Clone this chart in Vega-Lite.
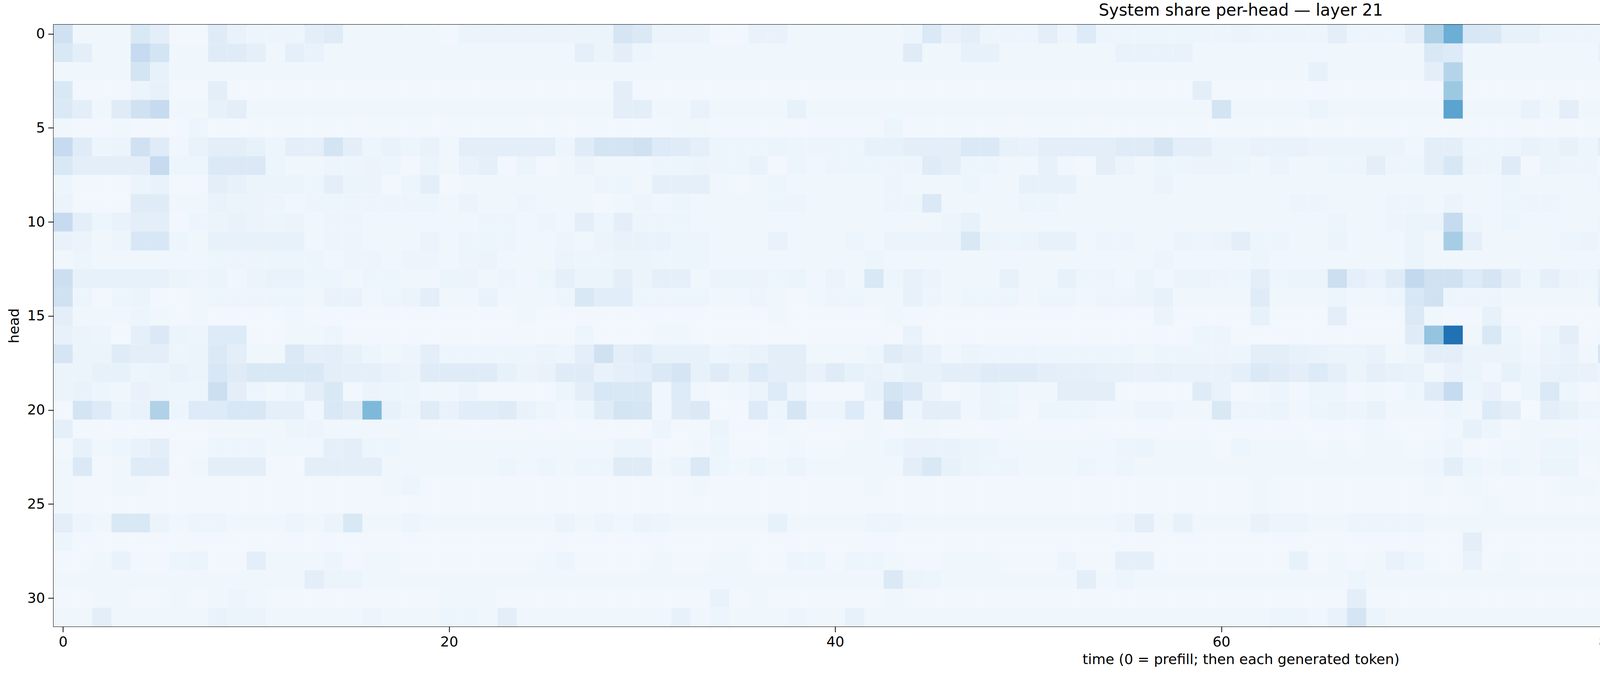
{
  "$schema": "https://vega.github.io/schema/vega-lite/v6.json",
  "width": 7748,
  "height": 1728,
  "autosize": {"type": "fit", "contains": "padding"},
  "padding": {"left": 18, "top": 6, "right": 1000, "bottom": 22},
  "background": "white",
  "config": {
    "font": "DejaVu Sans",
    "view": {"stroke": "black", "strokeWidth": 2},
    "axis": {"labelFontSize": 36, "titleFontSize": 36, "titleFontWeight": "normal", "labelColor": "black", "titleColor": "black", "tickColor": "black", "domain": false, "grid": false, "tickSize": 14, "tickWidth": 2, "labelPadding": 8}
  },
  "title": {"text": "System share per-head — layer 21", "fontSize": 42, "fontWeight": "normal", "offset": 14, "color": "black"},
  "data": {"values": [
{"h":0,"t":[0,1,2,3,4,5,6,7,8,9,10,11,12,13,14,15,16,17,18,19,20,21,22,23,24,25,26,27,28,29,30,31,32,33,34,35,36,37,38,39,40,41,42,43,44,45,46,47,48,49,50,51,52,53,54,55,56,57,58,59,60,61,62,63,64,65,66,67,68,69,70,71,72,73,74,75,76,77,78,79,80,81,82,83,84,85,86,87,88,89,90,91,92,93,94,95,96,97,98,99,100,101,102,103,104,105,106,107,108,109,110,111,112,113,114,115,116,117,118,119,120,121,122],"v":[0.2,0.04,0.04,0.04,0.15,0.1,0.03,0.03,0.12,0.07,0.05,0.05,0.05,0.1,0.12,0.04,0.04,0.04,0.04,0.04,0.03,0.06,0.06,0.06,0.06,0.06,0.06,0.06,0.06,0.17,0.14,0.06,0.06,0.06,0.03,0.03,0.07,0.07,0.04,0.04,0.04,0.04,0.04,0.04,0.05,0.14,0.07,0.1,0.05,0.05,0.05,0.1,0.05,0.13,0.05,0.05,0.05,0.05,0.05,0.05,0.05,0.06,0.05,0.05,0.05,0.05,0.1,0.05,0.05,0.05,0.1,0.33,0.5,0.16,0.15,0.08,0.08,0.05,0.05,0.05,0.05,0.05,0.1,0.05,0.9,0.05,0.05,0.05,0.05,0.05,0.05,0.05,0.06,0.05,0.05,0.06,0.05,0.05,0.5,0.1,0.3,0.05,0.05,0.05,0.08,0.08,0.16,0.12,0.16,0.14,0.25,0.05,0.05,0.12,0.05,0.08,0.1,0.1,0.1,0.13,0.13,0.13,0.4]},
{"h":1,"t":[0,1,2,3,4,5,6,7,8,9,10,11,12,13,14,15,16,17,18,19,20,21,22,23,24,25,26,27,28,29,30,31,32,33,34,35,36,37,38,39,40,41,42,43,44,45,46,47,48,49,50,51,52,53,54,55,56,57,58,59,60,61,62,63,64,65,66,67,68,69,70,71,72,73,74,75,76,77,78,79,80,81,82,83,84,85,86,87,88,89,90,91,92,93,94,95,96,97,98,99,100,101,102,103,104,105,106,107,108,109,110,111,112,113,114,115,116,117,118,119,120,121,122],"v":[0.15,0.1,0.04,0.04,0.25,0.18,0.04,0.04,0.12,0.12,0.09,0.04,0.09,0.07,0.04,0.04,0.04,0.04,0.04,0.04,0.04,0.04,0.04,0.04,0.04,0.04,0.04,0.09,0.06,0.1,0.05,0.04,0.04,0.04,0.04,0.04,0.04,0.04,0.04,0.04,0.04,0.04,0.04,0.04,0.12,0.04,0.04,0.08,0.08,0.04,0.04,0.04,0.04,0.04,0.04,0.07,0.07,0.07,0.07,0.04,0.04,0.04,0.04,0.04,0.04,0.04,0.04,0.04,0.04,0.04,0.04,0.15,0.13,0.04,0.04,0.04,0.04,0.04,0.04,0.04,0.07,0.04,0.04,0.04,0.07,0.04,0.04,0.04,0.04,0.04,0.04,0.04,0.04,0.04,0.04,0.04,0.04,0.04,0.3,0.04,0.17,0.04,0.04,0.04,0.04,0.04,0.04,0.04,0.04,0.04,0.07,0.09,0.04,0.04,0.08,0.08,0.04,0.1,0.04,0.04,0.04,0.04,0.25]},
{"h":2,"t":[0,1,2,3,4,5,6,7,8,9,10,11,12,13,14,15,16,17,18,19,20,21,22,23,24,25,26,27,28,29,30,31,32,33,34,35,36,37,38,39,40,41,42,43,44,45,46,47,48,49,50,51,52,53,54,55,56,57,58,59,60,61,62,63,64,65,66,67,68,69,70,71,72,73,74,75,76,77,78,79,80,81,82,83,84,85,86,87,88,89,90,91,92,93,94,95,96,97,98,99,100,101,102,103,104,105,106,107,108,109,110,111,112,113,114,115,116,117,118,119,120,121,122],"v":[0.04,0.04,0.04,0.04,0.18,0.08,0.04,0.04,0.04,0.04,0.04,0.04,0.04,0.04,0.04,0.04,0.04,0.04,0.04,0.04,0.04,0.04,0.04,0.04,0.04,0.04,0.04,0.04,0.04,0.04,0.04,0.04,0.04,0.04,0.04,0.04,0.04,0.04,0.04,0.04,0.04,0.04,0.04,0.04,0.04,0.04,0.04,0.04,0.04,0.04,0.04,0.04,0.04,0.04,0.04,0.04,0.04,0.04,0.04,0.04,0.04,0.04,0.04,0.04,0.04,0.08,0.04,0.04,0.04,0.04,0.04,0.1,0.3,0.04,0.04,0.04,0.04,0.04,0.04,0.04,0.04,0.04,0.04,0.04,0.8,0.04,0.07,0.04,0.04,0.04,0.04,0.04,0.04,0.04,0.04,0.04,0.04,0.04,0.12,0.04,0.14,0.04,0.04,0.04,0.04,0.04,0.04,0.04,0.12,0.04,0.04,0.04,0.04,0.04,0.04,0.04,0.1,0.04,0.04,0.04,0.04,0.04,0.14]},
{"h":3,"t":[0,1,2,3,4,5,6,7,8,9,10,11,12,13,14,15,16,17,18,19,20,21,22,23,24,25,26,27,28,29,30,31,32,33,34,35,36,37,38,39,40,41,42,43,44,45,46,47,48,49,50,51,52,53,54,55,56,57,58,59,60,61,62,63,64,65,66,67,68,69,70,71,72,73,74,75,76,77,78,79,80,81,82,83,84,85,86,87,88,89,90,91,92,93,94,95,96,97,98,99,100,101,102,103,104,105,106,107,108,109,110,111,112,113,114,115,116,117,118,119,120,121,122],"v":[0.15,0.03,0.03,0.03,0.06,0.08,0.03,0.03,0.1,0.03,0.03,0.03,0.03,0.03,0.03,0.03,0.03,0.03,0.03,0.03,0.03,0.03,0.03,0.03,0.03,0.03,0.03,0.03,0.03,0.1,0.03,0.03,0.03,0.03,0.03,0.03,0.03,0.03,0.03,0.03,0.03,0.03,0.03,0.03,0.03,0.03,0.03,0.03,0.03,0.03,0.03,0.03,0.03,0.03,0.03,0.03,0.03,0.03,0.03,0.1,0.03,0.03,0.03,0.03,0.03,0.03,0.03,0.03,0.03,0.03,0.03,0.03,0.38,0.03,0.03,0.03,0.03,0.03,0.03,0.03,0.03,0.03,0.03,0.03,0.4,0.03,0.03,0.03,0.03,0.03,0.03,0.03,0.03,0.03,0.03,0.03,0.03,0.03,0.03,0.03,0.14,0.03,0.03,0.03,0.03,0.03,0.03,0.03,0.03,0.03,0.12,0.1,0.03,0.03,0.03,0.03,0.03,0.1,0.03,0.03,0.03,0.03,0.03]},
{"h":4,"t":[0,1,2,3,4,5,6,7,8,9,10,11,12,13,14,15,16,17,18,19,20,21,22,23,24,25,26,27,28,29,30,31,32,33,34,35,36,37,38,39,40,41,42,43,44,45,46,47,48,49,50,51,52,53,54,55,56,57,58,59,60,61,62,63,64,65,66,67,68,69,70,71,72,73,74,75,76,77,78,79,80,81,82,83,84,85,86,87,88,89,90,91,92,93,94,95,96,97,98,99,100,101,102,103,104,105,106,107,108,109,110,111,112,113,114,115,116,117,118,119,120,121,122],"v":[0.14,0.1,0.04,0.12,0.2,0.25,0.04,0.04,0.08,0.1,0.04,0.04,0.04,0.04,0.04,0.04,0.04,0.04,0.04,0.04,0.04,0.04,0.04,0.04,0.04,0.04,0.04,0.04,0.04,0.1,0.1,0.04,0.04,0.07,0.04,0.04,0.04,0.04,0.08,0.04,0.04,0.04,0.04,0.04,0.04,0.04,0.04,0.04,0.04,0.04,0.04,0.04,0.04,0.04,0.04,0.04,0.04,0.04,0.04,0.04,0.18,0.04,0.04,0.04,0.04,0.06,0.04,0.04,0.04,0.04,0.04,0.04,0.55,0.04,0.04,0.04,0.07,0.04,0.1,0.04,0.04,0.04,0.07,0.04,0.1,0.04,0.04,0.04,0.04,0.04,0.04,0.04,0.04,0.04,0.04,0.04,0.04,0.04,0.04,0.04,0.25,0.04,0.04,0.04,0.04,0.04,0.04,0.04,0.04,0.04,0.17,0.04,0.04,0.04,0.1,0.04,0.04,0.1,0.15,0.04,0.04,0.04,0.1]},
{"h":5,"t":[0,1,2,3,4,5,6,7,8,9,10,11,12,13,14,15,16,17,18,19,20,21,22,23,24,25,26,27,28,29,30,31,32,33,34,35,36,37,38,39,40,41,42,43,44,45,46,47,48,49,50,51,52,53,54,55,56,57,58,59,60,61,62,63,64,65,66,67,68,69,70,71,72,73,74,75,76,77,78,79,80,81,82,83,84,85,86,87,88,89,90,91,92,93,94,95,96,97,98,99,100,101,102,103,104,105,106,107,108,109,110,111,112,113,114,115,116,117,118,119,120,121,122],"v":[0.04,0.03,0.03,0.04,0.03,0.03,0.03,0.05,0.03,0.03,0.03,0.03,0.03,0.03,0.03,0.03,0.03,0.03,0.03,0.03,0.03,0.03,0.03,0.03,0.03,0.03,0.03,0.03,0.03,0.03,0.03,0.03,0.04,0.04,0.03,0.03,0.03,0.03,0.03,0.03,0.03,0.03,0.03,0.05,0.03,0.03,0.03,0.03,0.03,0.03,0.03,0.03,0.03,0.03,0.03,0.03,0.03,0.03,0.03,0.03,0.03,0.03,0.03,0.03,0.03,0.03,0.03,0.03,0.03,0.03,0.03,0.03,0.03,0.03,0.03,0.03,0.03,0.03,0.03,0.03,0.03,0.03,0.03,0.03,0.04,0.03,0.03,0.03,0.03,0.03,0.03,0.03,0.03,0.03,0.03,0.03,0.03,0.03,0.03,0.03,0.03,0.03,0.03,0.03,0.03,0.03,0.03,0.03,0.03,0.03,0.03,0.03,0.03,0.03,0.03,0.04,0.03,0.03,0.03,0.03,0.03,0.03,0.03]},
{"h":6,"t":[0,1,2,3,4,5,6,7,8,9,10,11,12,13,14,15,16,17,18,19,20,21,22,23,24,25,26,27,28,29,30,31,32,33,34,35,36,37,38,39,40,41,42,43,44,45,46,47,48,49,50,51,52,53,54,55,56,57,58,59,60,61,62,63,64,65,66,67,68,69,70,71,72,73,74,75,76,77,78,79,80,81,82,83,84,85,86,87,88,89,90,91,92,93,94,95,96,97,98,99,100,101,102,103,104,105,106,107,108,109,110,111,112,113,114,115,116,117,118,119,120,121,122],"v":[0.25,0.12,0.05,0.06,0.2,0.12,0.04,0.07,0.1,0.1,0.08,0.05,0.1,0.09,0.18,0.1,0.05,0.07,0.05,0.07,0.04,0.1,0.1,0.1,0.1,0.1,0.05,0.12,0.18,0.18,0.2,0.13,0.12,0.09,0.05,0.05,0.05,0.06,0.05,0.05,0.05,0.05,0.08,0.08,0.1,0.1,0.1,0.14,0.14,0.08,0.07,0.1,0.1,0.1,0.1,0.12,0.12,0.17,0.1,0.1,0.06,0.06,0.07,0.07,0.07,0.06,0.06,0.06,0.06,0.06,0.04,0.1,0.1,0.05,0.05,0.05,0.07,0.06,0.08,0.05,0.1,0.06,0.1,0.06,0.52,0.06,0.06,0.06,0.06,0.07,0.06,0.06,0.08,0.06,0.06,0.1,0.04,0.05,0.09,0.07,0.12,0.04,0.06,0.07,0.04,0.06,0.06,0.12,0.04,0.05,0.1,0.05,0.05,0.06,0.05,0.07,0.12,0.12,0.06,0.05,0.05,0.05,0.18]},
{"h":7,"t":[0,1,2,3,4,5,6,7,8,9,10,11,12,13,14,15,16,17,18,19,20,21,22,23,24,25,26,27,28,29,30,31,32,33,34,35,36,37,38,39,40,41,42,43,44,45,46,47,48,49,50,51,52,53,54,55,56,57,58,59,60,61,62,63,64,65,66,67,68,69,70,71,72,73,74,75,76,77,78,79,80,81,82,83,84,85,86,87,88,89,90,91,92,93,94,95,96,97,98,99,100,101,102,103,104,105,106,107,108,109,110,111,112,113,114,115,116,117,118,119,120,121,122],"v":[0.15,0.1,0.1,0.1,0.1,0.25,0.05,0.05,0.14,0.14,0.14,0.05,0.04,0.04,0.05,0.05,0.06,0.05,0.03,0.06,0.04,0.07,0.09,0.03,0.06,0.03,0.04,0.06,0.04,0.04,0.04,0.05,0.05,0.06,0.05,0.05,0.07,0.03,0.05,0.04,0.05,0.05,0.05,0.05,0.05,0.12,0.1,0.05,0.05,0.04,0.04,0.08,0.04,0.03,0.1,0.06,0.04,0.05,0.05,0.06,0.06,0.05,0.04,0.06,0.04,0.04,0.05,0.05,0.1,0.05,0.05,0.1,0.16,0.06,0.05,0.12,0.03,0.06,0.05,0.05,0.03,0.03,0.05,0.05,0.38,0.03,0.05,0.05,0.04,0.04,0.04,0.04,0.05,0.04,0.04,0.04,0.05,0.05,0.13,0.04,0.12,0.07,0.07,0.05,0.05,0.08,0.08,0.07,0.08,0.05,0.15,0.04,0.04,0.04,0.05,0.04,0.04,0.05,0.05,0.06,0.05,0.04,0.1]},
{"h":8,"t":[0,1,2,3,4,5,6,7,8,9,10,11,12,13,14,15,16,17,18,19,20,21,22,23,24,25,26,27,28,29,30,31,32,33,34,35,36,37,38,39,40,41,42,43,44,45,46,47,48,49,50,51,52,53,54,55,56,57,58,59,60,61,62,63,64,65,66,67,68,69,70,71,72,73,74,75,76,77,78,79,80,81,82,83,84,85,86,87,88,89,90,91,92,93,94,95,96,97,98,99,100,101,102,103,104,105,106,107,108,109,110,111,112,113,114,115,116,117,118,119,120,121,122],"v":[0.05,0.03,0.03,0.03,0.06,0.07,0.03,0.03,0.1,0.08,0.06,0.06,0.06,0.05,0.1,0.06,0.06,0.03,0.05,0.1,0.03,0.04,0.04,0.04,0.04,0.04,0.04,0.04,0.05,0.05,0.04,0.09,0.09,0.09,0.04,0.03,0.04,0.05,0.04,0.04,0.04,0.04,0.04,0.05,0.04,0.04,0.04,0.05,0.04,0.04,0.08,0.08,0.08,0.04,0.04,0.04,0.04,0.06,0.04,0.04,0.04,0.04,0.04,0.04,0.04,0.04,0.04,0.04,0.04,0.04,0.04,0.04,0.04,0.04,0.04,0.05,0.04,0.04,0.04,0.04,0.05,0.04,0.04,0.04,0.05,0.04,0.04,0.04,0.04,0.04,0.04,0.04,0.04,0.04,0.04,0.04,0.04,0.04,0.04,0.04,0.04,0.04,0.04,0.04,0.04,0.04,0.1,0.16,0.04,0.05,0.04,0.04,0.04,0.04,0.04,0.04,0.04,0.05,0.04,0.04,0.04,0.04,0.04]},
{"h":9,"t":[0,1,2,3,4,5,6,7,8,9,10,11,12,13,14,15,16,17,18,19,20,21,22,23,24,25,26,27,28,29,30,31,32,33,34,35,36,37,38,39,40,41,42,43,44,45,46,47,48,49,50,51,52,53,54,55,56,57,58,59,60,61,62,63,64,65,66,67,68,69,70,71,72,73,74,75,76,77,78,79,80,81,82,83,84,85,86,87,88,89,90,91,92,93,94,95,96,97,98,99,100,101,102,103,104,105,106,107,108,109,110,111,112,113,114,115,116,117,118,119,120,121,122],"v":[0.06,0.03,0.03,0.03,0.12,0.12,0.04,0.04,0.07,0.06,0.06,0.05,0.04,0.05,0.05,0.05,0.05,0.05,0.05,0.05,0.04,0.06,0.04,0.04,0.05,0.04,0.04,0.04,0.03,0.04,0.05,0.04,0.05,0.04,0.04,0.04,0.04,0.05,0.05,0.04,0.04,0.04,0.04,0.05,0.05,0.14,0.04,0.04,0.04,0.04,0.05,0.05,0.04,0.04,0.04,0.04,0.04,0.04,0.04,0.04,0.04,0.04,0.04,0.04,0.05,0.05,0.04,0.04,0.04,0.05,0.05,0.04,0.06,0.04,0.04,0.05,0.05,0.05,0.04,0.04,0.04,0.05,0.15,0.04,0.13,0.06,0.03,0.04,0.04,0.04,0.04,0.04,0.08,0.04,0.04,0.04,0.04,0.04,0.04,0.05,0.09,0.05,0.05,0.05,0.05,0.07,0.1,0.09,0.06,0.04,0.04,0.04,0.04,0.04,0.04,0.04,0.05,0.05,0.04,0.04,0.04,0.04,0.04]},
{"h":10,"t":[0,1,2,3,4,5,6,7,8,9,10,11,12,13,14,15,16,17,18,19,20,21,22,23,24,25,26,27,28,29,30,31,32,33,34,35,36,37,38,39,40,41,42,43,44,45,46,47,48,49,50,51,52,53,54,55,56,57,58,59,60,61,62,63,64,65,66,67,68,69,70,71,72,73,74,75,76,77,78,79,80,81,82,83,84,85,86,87,88,89,90,91,92,93,94,95,96,97,98,99,100,101,102,103,104,105,106,107,108,109,110,111,112,113,114,115,116,117,118,119,120,121,122],"v":[0.25,0.1,0.05,0.07,0.1,0.1,0.03,0.05,0.06,0.07,0.06,0.05,0.06,0.04,0.05,0.05,0.04,0.04,0.04,0.04,0.04,0.04,0.05,0.05,0.04,0.05,0.04,0.1,0.05,0.1,0.05,0.05,0.05,0.04,0.04,0.04,0.04,0.04,0.04,0.04,0.04,0.04,0.04,0.04,0.04,0.04,0.05,0.08,0.04,0.04,0.04,0.04,0.04,0.04,0.04,0.04,0.04,0.04,0.04,0.04,0.04,0.04,0.04,0.04,0.04,0.04,0.05,0.04,0.04,0.05,0.06,0.06,0.25,0.05,0.04,0.05,0.04,0.04,0.04,0.04,0.05,0.04,0.04,0.04,0.15,0.04,0.05,0.04,0.04,0.04,0.04,0.04,0.04,0.04,0.04,0.04,0.04,0.04,0.06,0.05,0.07,0.04,0.04,0.04,0.04,0.04,0.04,0.05,0.04,0.05,0.08,0.08,0.04,0.05,0.05,0.05,0.05,0.06,0.13,0.05,0.04,0.05,0.05]},
{"h":11,"t":[0,1,2,3,4,5,6,7,8,9,10,11,12,13,14,15,16,17,18,19,20,21,22,23,24,25,26,27,28,29,30,31,32,33,34,35,36,37,38,39,40,41,42,43,44,45,46,47,48,49,50,51,52,53,54,55,56,57,58,59,60,61,62,63,64,65,66,67,68,69,70,71,72,73,74,75,76,77,78,79,80,81,82,83,84,85,86,87,88,89,90,91,92,93,94,95,96,97,98,99,100,101,102,103,104,105,106,107,108,109,110,111,112,113,114,115,116,117,118,119,120,121,122],"v":[0.07,0.06,0.04,0.05,0.16,0.16,0.05,0.04,0.08,0.08,0.08,0.08,0.08,0.04,0.05,0.05,0.04,0.04,0.04,0.06,0.04,0.05,0.05,0.05,0.04,0.04,0.05,0.04,0.06,0.07,0.07,0.07,0.05,0.05,0.04,0.04,0.04,0.07,0.04,0.04,0.04,0.05,0.04,0.06,0.06,0.06,0.06,0.15,0.06,0.05,0.06,0.08,0.08,0.04,0.05,0.05,0.04,0.04,0.06,0.05,0.06,0.1,0.05,0.05,0.04,0.04,0.06,0.04,0.04,0.04,0.06,0.04,0.35,0.09,0.04,0.04,0.04,0.04,0.05,0.06,0.04,0.04,0.04,0.04,0.15,0.04,0.06,0.04,0.04,0.04,0.04,0.04,0.04,0.04,0.04,0.04,0.04,0.04,0.1,0.1,0.2,0.04,0.06,0.06,0.04,0.05,0.08,0.05,0.1,0.12,0.27,0.25,0.1,0.15,0.15,0.15,0.07,0.16,0.25,0.06,0.05,0.05,0.05]},
{"h":12,"t":[0,1,2,3,4,5,6,7,8,9,10,11,12,13,14,15,16,17,18,19,20,21,22,23,24,25,26,27,28,29,30,31,32,33,34,35,36,37,38,39,40,41,42,43,44,45,46,47,48,49,50,51,52,53,54,55,56,57,58,59,60,61,62,63,64,65,66,67,68,69,70,71,72,73,74,75,76,77,78,79,80,81,82,83,84,85,86,87,88,89,90,91,92,93,94,95,96,97,98,99,100,101,102,103,104,105,106,107,108,109,110,111,112,113,114,115,116,117,118,119,120,121,122],"v":[0.04,0.05,0.04,0.04,0.04,0.04,0.04,0.04,0.05,0.05,0.05,0.05,0.05,0.05,0.04,0.05,0.05,0.04,0.05,0.05,0.04,0.05,0.06,0.04,0.04,0.04,0.06,0.05,0.05,0.06,0.06,0.05,0.05,0.05,0.04,0.04,0.04,0.04,0.04,0.04,0.04,0.04,0.05,0.04,0.04,0.04,0.04,0.04,0.04,0.04,0.04,0.04,0.04,0.04,0.04,0.04,0.04,0.05,0.04,0.04,0.04,0.04,0.05,0.04,0.04,0.04,0.04,0.04,0.04,0.04,0.06,0.04,0.04,0.04,0.04,0.04,0.04,0.04,0.04,0.04,0.04,0.04,0.04,0.04,0.04,0.04,0.04,0.04,0.04,0.04,0.04,0.04,0.04,0.04,0.04,0.04,0.04,0.04,0.04,0.04,0.04,0.04,0.04,0.04,0.04,0.04,0.04,0.05,0.04,0.04,0.04,0.04,0.04,0.04,0.05,0.04,0.04,0.04,0.04,0.04,0.04,0.05,0.05]},
{"h":13,"t":[0,1,2,3,4,5,6,7,8,9,10,11,12,13,14,15,16,17,18,19,20,21,22,23,24,25,26,27,28,29,30,31,32,33,34,35,36,37,38,39,40,41,42,43,44,45,46,47,48,49,50,51,52,53,54,55,56,57,58,59,60,61,62,63,64,65,66,67,68,69,70,71,72,73,74,75,76,77,78,79,80,81,82,83,84,85,86,87,88,89,90,91,92,93,94,95,96,97,98,99,100,101,102,103,104,105,106,107,108,109,110,111,112,113,114,115,116,117,118,119,120,121,122],"v":[0.22,0.08,0.08,0.08,0.08,0.08,0.06,0.05,0.06,0.04,0.06,0.07,0.07,0.05,0.05,0.04,0.05,0.05,0.04,0.04,0.06,0.06,0.04,0.05,0.04,0.05,0.09,0.06,0.06,0.1,0.06,0.09,0.09,0.04,0.06,0.06,0.06,0.05,0.06,0.04,0.06,0.04,0.15,0.05,0.08,0.06,0.04,0.04,0.04,0.08,0.04,0.04,0.08,0.05,0.05,0.04,0.06,0.04,0.06,0.06,0.05,0.05,0.1,0.05,0.06,0.06,0.22,0.09,0.07,0.12,0.26,0.2,0.2,0.13,0.17,0.1,0.05,0.09,0.06,0.05,0.1,0.07,0.07,0.06,0.2,0.06,0.1,0.05,0.08,0.06,0.04,0.05,0.06,0.05,0.06,0.08,0.15,0.17,0.2,0.17,0.16,0.1,0.1,0.04,0.13,0.15,0.14,0.05,0.12,0.2,0.1,0.09,0.05,0.05,0.12,0.05,0.14,0.1,0.12,0.15,0.05,0.35,0.15]},
{"h":14,"t":[0,1,2,3,4,5,6,7,8,9,10,11,12,13,14,15,16,17,18,19,20,21,22,23,24,25,26,27,28,29,30,31,32,33,34,35,36,37,38,39,40,41,42,43,44,45,46,47,48,49,50,51,52,53,54,55,56,57,58,59,60,61,62,63,64,65,66,67,68,69,70,71,72,73,74,75,76,77,78,79,80,81,82,83,84,85,86,87,88,89,90,91,92,93,94,95,96,97,98,99,100,101,102,103,104,105,106,107,108,109,110,111,112,113,114,115,116,117,118,119,120,121,122],"v":[0.2,0.05,0.03,0.05,0.06,0.03,0.03,0.04,0.05,0.05,0.05,0.05,0.05,0.04,0.07,0.07,0.04,0.05,0.06,0.1,0.04,0.04,0.07,0.04,0.04,0.04,0.05,0.15,0.11,0.11,0.05,0.05,0.05,0.05,0.04,0.04,0.05,0.04,0.03,0.04,0.05,0.05,0.04,0.04,0.08,0.05,0.04,0.05,0.05,0.05,0.04,0.05,0.05,0.04,0.05,0.05,0.06,0.08,0.04,0.04,0.04,0.04,0.12,0.04,0.04,0.04,0.05,0.04,0.04,0.05,0.16,0.2,0.05,0.05,0.05,0.04,0.04,0.04,0.04,0.04,0.12,0.04,0.04,0.04,0.04,0.04,0.04,0.04,0.05,0.04,0.04,0.04,0.04,0.04,0.04,0.04,0.04,0.04,0.12,0.05,0.04,0.04,0.04,0.04,0.04,0.04,0.04,0.04,0.04,0.04,0.04,0.04,0.04,0.04,0.05,0.04,0.04,0.05,0.05,0.04,0.05,0.07,0.14]},
{"h":15,"t":[0,1,2,3,4,5,6,7,8,9,10,11,12,13,14,15,16,17,18,19,20,21,22,23,24,25,26,27,28,29,30,31,32,33,34,35,36,37,38,39,40,41,42,43,44,45,46,47,48,49,50,51,52,53,54,55,56,57,58,59,60,61,62,63,64,65,66,67,68,69,70,71,72,73,74,75,76,77,78,79,80,81,82,83,84,85,86,87,88,89,90,91,92,93,94,95,96,97,98,99,100,101,102,103,104,105,106,107,108,109,110,111,112,113,114,115,116,117,118,119,120,121,122],"v":[0.1,0.04,0.04,0.04,0.05,0.04,0.03,0.04,0.03,0.03,0.03,0.03,0.04,0.03,0.03,0.03,0.03,0.03,0.03,0.03,0.03,0.03,0.03,0.03,0.04,0.03,0.03,0.03,0.03,0.03,0.03,0.03,0.03,0.03,0.03,0.03,0.03,0.04,0.03,0.03,0.03,0.03,0.03,0.04,0.03,0.03,0.03,0.03,0.03,0.03,0.03,0.03,0.03,0.03,0.03,0.03,0.03,0.06,0.03,0.03,0.03,0.03,0.08,0.03,0.03,0.03,0.1,0.03,0.03,0.03,0.14,0.04,0.03,0.03,0.08,0.03,0.03,0.03,0.03,0.03,0.03,0.03,0.03,0.03,0.04,0.03,0.04,0.03,0.03,0.03,0.03,0.03,0.03,0.03,0.03,0.03,0.03,0.03,0.03,0.08,0.03,0.03,0.03,0.03,0.03,0.03,0.03,0.04,0.04,0.03,0.03,0.03,0.03,0.05,0.08,0.03,0.03,0.03,0.03,0.03,0.03,0.1,0.06]},
{"h":16,"t":[0,1,2,3,4,5,6,7,8,9,10,11,12,13,14,15,16,17,18,19,20,21,22,23,24,25,26,27,28,29,30,31,32,33,34,35,36,37,38,39,40,41,42,43,44,45,46,47,48,49,50,51,52,53,54,55,56,57,58,59,60,61,62,63,64,65,66,67,68,69,70,71,72,73,74,75,76,77,78,79,80,81,82,83,84,85,86,87,88,89,90,91,92,93,94,95,96,97,98,99,100,101,102,103,104,105,106,107,108,109,110,111,112,113,114,115,116,117,118,119,120,121,122],"v":[0.08,0.06,0.05,0.03,0.09,0.14,0.06,0.05,0.13,0.13,0.03,0.03,0.04,0.04,0.05,0.03,0.03,0.03,0.03,0.03,0.03,0.03,0.03,0.03,0.03,0.03,0.03,0.05,0.03,0.03,0.03,0.04,0.04,0.03,0.03,0.03,0.03,0.03,0.03,0.03,0.03,0.03,0.03,0.03,0.07,0.03,0.03,0.03,0.03,0.03,0.03,0.03,0.03,0.03,0.03,0.03,0.03,0.03,0.03,0.05,0.05,0.03,0.03,0.03,0.03,0.03,0.03,0.03,0.03,0.03,0.12,0.4,0.75,0.04,0.15,0.05,0.03,0.05,0.1,0.03,0.04,0.03,0.03,0.03,0.27,0.03,0.04,0.03,0.03,0.03,0.03,0.03,0.04,0.03,0.03,0.03,0.03,0.03,0.38,0.05,0.13,0.03,0.03,0.03,0.03,0.04,0.03,0.04,0.04,0.3,0.2,0.4,0.05,0.04,0.04,0.04,0.04,0.08,0.08,0.04,0.05,0.08,0.26]},
{"h":17,"t":[0,1,2,3,4,5,6,7,8,9,10,11,12,13,14,15,16,17,18,19,20,21,22,23,24,25,26,27,28,29,30,31,32,33,34,35,36,37,38,39,40,41,42,43,44,45,46,47,48,49,50,51,52,53,54,55,56,57,58,59,60,61,62,63,64,65,66,67,68,69,70,71,72,73,74,75,76,77,78,79,80,81,82,83,84,85,86,87,88,89,90,91,92,93,94,95,96,97,98,99,100,101,102,103,104,105,106,107,108,109,110,111,112,113,114,115,116,117,118,119,120,121,122],"v":[0.17,0.06,0.06,0.12,0.1,0.1,0.05,0.06,0.14,0.1,0.04,0.04,0.14,0.09,0.1,0.08,0.05,0.04,0.05,0.1,0.05,0.05,0.05,0.05,0.05,0.06,0.05,0.1,0.2,0.1,0.12,0.08,0.08,0.08,0.05,0.06,0.07,0.1,0.1,0.04,0.04,0.04,0.05,0.12,0.1,0.07,0.04,0.06,0.05,0.05,0.05,0.05,0.05,0.05,0.05,0.05,0.04,0.05,0.05,0.05,0.05,0.05,0.1,0.1,0.08,0.07,0.06,0.06,0.07,0.04,0.05,0.1,0.1,0.06,0.06,0.06,0.04,0.06,0.07,0.04,0.17,0.06,0.04,0.04,0.55,0.04,0.05,0.06,0.12,0.05,0.05,0.05,0.05,0.06,0.06,0.06,0.06,0.05,0.12,0.05,0.06,0.08,0.07,0.07,0.05,0.06,0.18,0.09,0.09,0.09,0.09,0.05,0.18,0.07,0.08,0.05,0.12,0.08,0.05,0.05,0.05,0.06,0.1]},
{"h":18,"t":[0,1,2,3,4,5,6,7,8,9,10,11,12,13,14,15,16,17,18,19,20,21,22,23,24,25,26,27,28,29,30,31,32,33,34,35,36,37,38,39,40,41,42,43,44,45,46,47,48,49,50,51,52,53,54,55,56,57,58,59,60,61,62,63,64,65,66,67,68,69,70,71,72,73,74,75,76,77,78,79,80,81,82,83,84,85,86,87,88,89,90,91,92,93,94,95,96,97,98,99,100,101,102,103,104,105,106,107,108,109,110,111,112,113,114,115,116,117,118,119,120,121,122],"v":[0.06,0.06,0.08,0.08,0.05,0.06,0.07,0.06,0.16,0.12,0.15,0.15,0.15,0.15,0.1,0.09,0.09,0.07,0.06,0.12,0.12,0.12,0.12,0.08,0.06,0.07,0.12,0.12,0.07,0.09,0.1,0.14,0.17,0.08,0.12,0.08,0.13,0.1,0.1,0.07,0.12,0.08,0.07,0.06,0.08,0.08,0.1,0.1,0.12,0.12,0.12,0.1,0.09,0.09,0.08,0.08,0.07,0.08,0.07,0.07,0.07,0.09,0.14,0.12,0.1,0.13,0.09,0.06,0.09,0.08,0.07,0.04,0.07,0.06,0.04,0.08,0.05,0.07,0.08,0.07,0.05,0.07,0.08,0.06,0.04,0.1,0.1,0.1,0.1,0.1,0.1,0.07,0.14,0.07,0.07,0.07,0.07,0.06,0.06,0.06,0.07,0.05,0.05,0.05,0.05,0.06,0.05,0.05,0.14,0.05,0.05,0.1,0.06,0.06,0.07,0.08,0.08,0.05,0.05,0.06,0.06,0.08,0.05]},
{"h":19,"t":[0,1,2,3,4,5,6,7,8,9,10,11,12,13,14,15,16,17,18,19,20,21,22,23,24,25,26,27,28,29,30,31,32,33,34,35,36,37,38,39,40,41,42,43,44,45,46,47,48,49,50,51,52,53,54,55,56,57,58,59,60,61,62,63,64,65,66,67,68,69,70,71,72,73,74,75,76,77,78,79,80,81,82,83,84,85,86,87,88,89,90,91,92,93,94,95,96,97,98,99,100,101,102,103,104,105,106,107,108,109,110,111,112,113,114,115,116,117,118,119,120,121,122],"v":[0.06,0.07,0.05,0.04,0.07,0.06,0.05,0.05,0.22,0.1,0.05,0.04,0.05,0.1,0.15,0.03,0.06,0.05,0.05,0.04,0.04,0.05,0.03,0.03,0.03,0.03,0.05,0.1,0.16,0.15,0.15,0.04,0.13,0.04,0.03,0.04,0.06,0.13,0.06,0.03,0.03,0.03,0.08,0.18,0.14,0.06,0.03,0.04,0.06,0.05,0.04,0.04,0.1,0.1,0.1,0.03,0.03,0.03,0.03,0.12,0.07,0.03,0.04,0.05,0.03,0.05,0.05,0.03,0.04,0.03,0.05,0.12,0.25,0.05,0.07,0.03,0.05,0.14,0.05,0.03,0.04,0.03,0.04,0.03,0.13,0.03,0.03,0.03,0.04,0.04,0.03,0.03,0.04,0.03,0.03,0.03,0.04,0.04,0.06,0.07,0.15,0.04,0.04,0.03,0.03,0.04,0.03,0.03,0.08,0.13,0.22,0.5,0.05,0.08,0.22,0.03,0.25,0.18,0.27,0.32,0.33,0.04,0.04]},
{"h":20,"t":[0,1,2,3,4,5,6,7,8,9,10,11,12,13,14,15,16,17,18,19,20,21,22,23,24,25,26,27,28,29,30,31,32,33,34,35,36,37,38,39,40,41,42,43,44,45,46,47,48,49,50,51,52,53,54,55,56,57,58,59,60,61,62,63,64,65,66,67,68,69,70,71,72,73,74,75,76,77,78,79,80,81,82,83,84,85,86,87,88,89,90,91,92,93,94,95,96,97,98,99,100,101,102,103,104,105,106,107,108,109,110,111,112,113,114,115,116,117,118,119,120,121,122],"v":[0.03,0.18,0.13,0.06,0.07,0.32,0.05,0.13,0.13,0.16,0.16,0.09,0.09,0.04,0.15,0.12,0.45,0.08,0.05,0.12,0.07,0.11,0.11,0.12,0.07,0.05,0.04,0.05,0.12,0.18,0.17,0.04,0.12,0.14,0.03,0.03,0.13,0.05,0.17,0.05,0.05,0.13,0.04,0.23,0.05,0.1,0.1,0.04,0.06,0.05,0.03,0.05,0.05,0.05,0.04,0.04,0.05,0.05,0.04,0.04,0.15,0.05,0.05,0.06,0.04,0.05,0.06,0.05,0.07,0.04,0.04,0.04,0.05,0.04,0.13,0.1,0.02,0.1,0.08,0.05,0.05,0.05,0.04,0.05,0.06,0.04,0.04,0.04,0.04,0.04,0.04,0.04,0.05,0.05,0.04,0.04,0.04,0.04,0.04,0.04,0.04,0.04,0.04,0.05,0.04,0.04,0.04,0.04,0.04,0.04,0.04,0.04,0.04,0.04,0.05,0.05,0.04,0.16,0.07,0.06,0.04,0.04,0.04]},
{"h":21,"t":[0,1,2,3,4,5,6,7,8,9,10,11,12,13,14,15,16,17,18,19,20,21,22,23,24,25,26,27,28,29,30,31,32,33,34,35,36,37,38,39,40,41,42,43,44,45,46,47,48,49,50,51,52,53,54,55,56,57,58,59,60,61,62,63,64,65,66,67,68,69,70,71,72,73,74,75,76,77,78,79,80,81,82,83,84,85,86,87,88,89,90,91,92,93,94,95,96,97,98,99,100,101,102,103,104,105,106,107,108,109,110,111,112,113,114,115,116,117,118,119,120,121,122],"v":[0.09,0.03,0.03,0.03,0.03,0.03,0.03,0.03,0.04,0.04,0.04,0.04,0.05,0.05,0.04,0.04,0.04,0.04,0.04,0.03,0.03,0.03,0.03,0.03,0.03,0.03,0.03,0.03,0.03,0.03,0.03,0.05,0.03,0.03,0.06,0.03,0.03,0.04,0.03,0.03,0.03,0.03,0.04,0.03,0.04,0.04,0.03,0.03,0.03,0.03,0.03,0.03,0.03,0.03,0.03,0.03,0.03,0.03,0.03,0.03,0.03,0.03,0.03,0.03,0.03,0.03,0.03,0.03,0.04,0.03,0.03,0.03,0.04,0.08,0.05,0.03,0.04,0.04,0.04,0.03,0.04,0.04,0.04,0.04,0.5,0.03,0.04,0.04,0.04,0.04,0.04,0.04,0.05,0.05,0.04,0.04,0.04,0.04,0.04,0.04,0.05,0.05,0.04,0.04,0.04,0.04,0.04,0.04,0.12,0.04,0.04,0.04,0.04,0.04,0.04,0.04,0.05,0.05,0.04,0.04,0.04,0.04,0.05]},
{"h":22,"t":[0,1,2,3,4,5,6,7,8,9,10,11,12,13,14,15,16,17,18,19,20,21,22,23,24,25,26,27,28,29,30,31,32,33,34,35,36,37,38,39,40,41,42,43,44,45,46,47,48,49,50,51,52,53,54,55,56,57,58,59,60,61,62,63,64,65,66,67,68,69,70,71,72,73,74,75,76,77,78,79,80,81,82,83,84,85,86,87,88,89,90,91,92,93,94,95,96,97,98,99,100,101,102,103,104,105,106,107,108,109,110,111,112,113,114,115,116,117,118,119,120,121,122],"v":[0.03,0.08,0.04,0.05,0.07,0.1,0.03,0.03,0.05,0.05,0.05,0.04,0.04,0.04,0.09,0.1,0.05,0.05,0.04,0.04,0.04,0.04,0.04,0.04,0.04,0.04,0.04,0.04,0.04,0.06,0.06,0.03,0.03,0.04,0.05,0.03,0.03,0.03,0.04,0.03,0.03,0.04,0.04,0.05,0.07,0.07,0.07,0.06,0.05,0.04,0.04,0.04,0.04,0.04,0.04,0.05,0.06,0.04,0.04,0.04,0.03,0.05,0.04,0.04,0.04,0.03,0.04,0.03,0.04,0.04,0.03,0.04,0.05,0.03,0.03,0.04,0.04,0.05,0.05,0.04,0.04,0.04,0.04,0.04,0.03,0.04,0.04,0.04,0.04,0.04,0.04,0.04,0.04,0.04,0.04,0.03,0.03,0.03,0.04,0.04,0.04,0.03,0.03,0.03,0.03,0.03,0.03,0.03,0.03,0.03,0.04,0.03,0.03,0.04,0.03,0.03,0.03,0.2,0.04,0.04,0.04,0.04,0.05]},
{"h":23,"t":[0,1,2,3,4,5,6,7,8,9,10,11,12,13,14,15,16,17,18,19,20,21,22,23,24,25,26,27,28,29,30,31,32,33,34,35,36,37,38,39,40,41,42,43,44,45,46,47,48,49,50,51,52,53,54,55,56,57,58,59,60,61,62,63,64,65,66,67,68,69,70,71,72,73,74,75,76,77,78,79,80,81,82,83,84,85,86,87,88,89,90,91,92,93,94,95,96,97,98,99,100,101,102,103,104,105,106,107,108,109,110,111,112,113,114,115,116,117,118,119,120,121,122],"v":[0.04,0.14,0.03,0.04,0.12,0.12,0.03,0.04,0.1,0.1,0.1,0.03,0.03,0.1,0.1,0.1,0.1,0.04,0.04,0.04,0.04,0.04,0.04,0.05,0.04,0.05,0.04,0.05,0.05,0.12,0.12,0.04,0.06,0.14,0.05,0.04,0.05,0.04,0.06,0.04,0.04,0.04,0.04,0.04,0.1,0.15,0.08,0.06,0.05,0.05,0.04,0.04,0.04,0.05,0.04,0.05,0.04,0.04,0.04,0.04,0.04,0.04,0.04,0.04,0.04,0.04,0.04,0.04,0.04,0.04,0.04,0.05,0.1,0.05,0.04,0.05,0.04,0.06,0.06,0.03,0.04,0.05,0.04,0.04,0.08,0.04,0.04,0.04,0.04,0.04,0.04,0.04,0.05,0.04,0.04,0.04,0.05,0.04,0.06,0.07,0.08,0.04,0.04,0.04,0.04,0.04,0.07,0.06,0.04,0.05,0.05,0.14,0.04,0.04,0.04,0.04,0.06,0.08,0.09,0.05,0.04,0.04,0.06]},
{"h":24,"t":[0,1,2,3,4,5,6,7,8,9,10,11,12,13,14,15,16,17,18,19,20,21,22,23,24,25,26,27,28,29,30,31,32,33,34,35,36,37,38,39,40,41,42,43,44,45,46,47,48,49,50,51,52,53,54,55,56,57,58,59,60,61,62,63,64,65,66,67,68,69,70,71,72,73,74,75,76,77,78,79,80,81,82,83,84,85,86,87,88,89,90,91,92,93,94,95,96,97,98,99,100,101,102,103,104,105,106,107,108,109,110,111,112,113,114,115,116,117,118,119,120,121,122],"v":[0.04,0.03,0.03,0.04,0.04,0.03,0.03,0.03,0.03,0.03,0.03,0.03,0.03,0.03,0.03,0.03,0.03,0.04,0.05,0.03,0.03,0.03,0.03,0.03,0.03,0.03,0.03,0.03,0.03,0.03,0.03,0.03,0.03,0.04,0.03,0.03,0.03,0.03,0.03,0.03,0.03,0.03,0.04,0.03,0.03,0.03,0.03,0.03,0.03,0.03,0.03,0.03,0.03,0.03,0.03,0.03,0.03,0.03,0.03,0.03,0.03,0.03,0.04,0.03,0.03,0.03,0.03,0.03,0.03,0.03,0.03,0.04,0.03,0.04,0.03,0.03,0.03,0.03,0.04,0.04,0.03,0.03,0.03,0.03,0.03,0.03,0.03,0.03,0.03,0.04,0.03,0.03,0.04,0.03,0.03,0.03,0.03,0.03,0.04,0.03,0.03,0.03,0.03,0.03,0.04,0.03,0.03,0.03,0.03,0.08,0.03,0.03,0.03,0.03,0.03,0.03,0.03,0.03,0.03,0.03,0.03,0.03,0.05]},
{"h":25,"t":[0,1,2,3,4,5,6,7,8,9,10,11,12,13,14,15,16,17,18,19,20,21,22,23,24,25,26,27,28,29,30,31,32,33,34,35,36,37,38,39,40,41,42,43,44,45,46,47,48,49,50,51,52,53,54,55,56,57,58,59,60,61,62,63,64,65,66,67,68,69,70,71,72,73,74,75,76,77,78,79,80,81,82,83,84,85,86,87,88,89,90,91,92,93,94,95,96,97,98,99,100,101,102,103,104,105,106,107,108,109,110,111,112,113,114,115,116,117,118,119,120,121,122],"v":[0.04,0.03,0.03,0.03,0.03,0.03,0.03,0.03,0.03,0.03,0.03,0.03,0.03,0.03,0.03,0.03,0.03,0.03,0.03,0.03,0.03,0.03,0.03,0.03,0.03,0.03,0.03,0.03,0.03,0.03,0.03,0.03,0.03,0.03,0.03,0.03,0.03,0.03,0.03,0.03,0.03,0.03,0.03,0.03,0.03,0.03,0.03,0.03,0.03,0.03,0.03,0.03,0.03,0.03,0.03,0.03,0.03,0.03,0.03,0.03,0.03,0.03,0.04,0.03,0.03,0.03,0.03,0.03,0.03,0.03,0.03,0.03,0.03,0.03,0.04,0.03,0.03,0.03,0.03,0.03,0.03,0.03,0.03,0.03,0.03,0.03,0.03,0.03,0.03,0.03,0.03,0.03,0.03,0.03,0.04,0.03,0.03,0.03,0.03,0.03,0.03,0.03,0.03,0.03,0.03,0.03,0.03,0.03,0.03,0.03,0.03,0.03,0.04,0.03,0.04,0.03,0.03,0.03,0.04,0.03,0.03,0.16,0.04]},
{"h":26,"t":[0,1,2,3,4,5,6,7,8,9,10,11,12,13,14,15,16,17,18,19,20,21,22,23,24,25,26,27,28,29,30,31,32,33,34,35,36,37,38,39,40,41,42,43,44,45,46,47,48,49,50,51,52,53,54,55,56,57,58,59,60,61,62,63,64,65,66,67,68,69,70,71,72,73,74,75,76,77,78,79,80,81,82,83,84,85,86,87,88,89,90,91,92,93,94,95,96,97,98,99,100,101,102,103,104,105,106,107,108,109,110,111,112,113,114,115,116,117,118,119,120,121,122],"v":[0.1,0.05,0.04,0.15,0.15,0.06,0.04,0.05,0.05,0.04,0.04,0.04,0.05,0.04,0.06,0.15,0.04,0.04,0.05,0.04,0.04,0.04,0.04,0.04,0.04,0.04,0.06,0.04,0.05,0.04,0.06,0.05,0.04,0.04,0.04,0.04,0.04,0.08,0.04,0.04,0.04,0.04,0.05,0.05,0.04,0.04,0.04,0.04,0.04,0.04,0.04,0.04,0.04,0.04,0.04,0.05,0.1,0.04,0.08,0.04,0.04,0.04,0.07,0.05,0.05,0.04,0.04,0.05,0.05,0.05,0.05,0.04,0.04,0.04,0.04,0.04,0.04,0.04,0.04,0.04,0.04,0.04,0.04,0.04,0.04,0.04,0.04,0.04,0.04,0.04,0.04,0.04,0.04,0.04,0.04,0.04,0.04,0.04,0.05,0.04,0.04,0.04,0.04,0.04,0.04,0.05,0.04,0.04,0.05,0.04,0.04,0.04,0.04,0.05,0.04,0.05,0.08,0.04,0.04,0.04,0.04,0.15,0.12]},
{"h":27,"t":[0,1,2,3,4,5,6,7,8,9,10,11,12,13,14,15,16,17,18,19,20,21,22,23,24,25,26,27,28,29,30,31,32,33,34,35,36,37,38,39,40,41,42,43,44,45,46,47,48,49,50,51,52,53,54,55,56,57,58,59,60,61,62,63,64,65,66,67,68,69,70,71,72,73,74,75,76,77,78,79,80,81,82,83,84,85,86,87,88,89,90,91,92,93,94,95,96,97,98,99,100,101,102,103,104,105,106,107,108,109,110,111,112,113,114,115,116,117,118,119,120,121,122],"v":[0.05,0.03,0.03,0.03,0.03,0.03,0.03,0.03,0.03,0.03,0.03,0.03,0.03,0.03,0.03,0.03,0.03,0.03,0.03,0.03,0.03,0.03,0.03,0.03,0.03,0.03,0.03,0.03,0.03,0.03,0.03,0.03,0.03,0.03,0.03,0.03,0.03,0.03,0.03,0.03,0.03,0.03,0.03,0.03,0.03,0.03,0.03,0.03,0.03,0.03,0.03,0.03,0.03,0.03,0.03,0.03,0.03,0.03,0.03,0.03,0.03,0.03,0.03,0.03,0.03,0.03,0.03,0.03,0.03,0.03,0.03,0.03,0.03,0.1,0.03,0.03,0.03,0.03,0.03,0.03,0.03,0.03,0.03,0.03,0.04,0.03,0.03,0.03,0.03,0.03,0.03,0.03,0.03,0.03,0.03,0.03,0.03,0.03,0.04,0.03,0.03,0.03,0.03,0.03,0.03,0.03,0.03,0.03,0.03,0.03,0.03,0.03,0.03,0.03,0.1,0.03,0.1,0.03,0.03,0.03,0.03,0.13,0.1]},
{"h":28,"t":[0,1,2,3,4,5,6,7,8,9,10,11,12,13,14,15,16,17,18,19,20,21,22,23,24,25,26,27,28,29,30,31,32,33,34,35,36,37,38,39,40,41,42,43,44,45,46,47,48,49,50,51,52,53,54,55,56,57,58,59,60,61,62,63,64,65,66,67,68,69,70,71,72,73,74,75,76,77,78,79,80,81,82,83,84,85,86,87,88,89,90,91,92,93,94,95,96,97,98,99,100,101,102,103,104,105,106,107,108,109,110,111,112,113,114,115,116,117,118,119,120,121,122],"v":[0.03,0.03,0.04,0.07,0.03,0.03,0.05,0.06,0.03,0.03,0.1,0.04,0.04,0.04,0.05,0.03,0.04,0.04,0.03,0.03,0.03,0.03,0.03,0.03,0.03,0.04,0.05,0.03,0.03,0.03,0.03,0.04,0.03,0.03,0.04,0.04,0.03,0.03,0.05,0.05,0.03,0.05,0.05,0.04,0.03,0.03,0.04,0.04,0.04,0.03,0.03,0.03,0.05,0.03,0.03,0.09,0.09,0.03,0.03,0.03,0.03,0.03,0.03,0.03,0.08,0.03,0.04,0.03,0.04,0.07,0.05,0.03,0.03,0.07,0.03,0.04,0.03,0.03,0.03,0.03,0.03,0.03,0.03,0.04,0.03,0.03,0.05,0.03,0.04,0.03,0.03,0.03,0.03,0.04,0.04,0.04,0.03,0.03,0.03,0.03,0.03,0.04,0.03,0.03,0.03,0.03,0.03,0.03,0.04,0.03,0.03,0.03,0.03,0.03,0.03,0.04,0.03,0.03,0.03,0.03,0.03,0.04,0.03]},
{"h":29,"t":[0,1,2,3,4,5,6,7,8,9,10,11,12,13,14,15,16,17,18,19,20,21,22,23,24,25,26,27,28,29,30,31,32,33,34,35,36,37,38,39,40,41,42,43,44,45,46,47,48,49,50,51,52,53,54,55,56,57,58,59,60,61,62,63,64,65,66,67,68,69,70,71,72,73,74,75,76,77,78,79,80,81,82,83,84,85,86,87,88,89,90,91,92,93,94,95,96,97,98,99,100,101,102,103,104,105,106,107,108,109,110,111,112,113,114,115,116,117,118,119,120,121,122],"v":[0.04,0.04,0.04,0.04,0.04,0.04,0.04,0.04,0.04,0.04,0.04,0.04,0.04,0.1,0.06,0.06,0.04,0.04,0.04,0.04,0.04,0.04,0.04,0.04,0.04,0.04,0.04,0.04,0.04,0.04,0.04,0.04,0.04,0.04,0.04,0.04,0.04,0.04,0.04,0.04,0.04,0.04,0.04,0.14,0.06,0.05,0.04,0.04,0.04,0.04,0.04,0.04,0.04,0.1,0.04,0.05,0.04,0.04,0.04,0.04,0.04,0.04,0.04,0.04,0.04,0.04,0.04,0.05,0.04,0.04,0.04,0.04,0.04,0.04,0.04,0.04,0.04,0.04,0.04,0.04,0.04,0.04,0.04,0.04,0.04,0.04,0.04,0.04,0.04,0.04,0.04,0.04,0.04,0.04,0.04,0.04,0.04,0.04,0.04,0.04,0.04,0.04,0.04,0.04,0.04,0.04,0.04,0.04,0.04,0.04,0.04,0.04,0.04,0.04,0.04,0.04,0.04,0.05,0.04,0.04,0.04,0.04,0.04]},
{"h":30,"t":[0,1,2,3,4,5,6,7,8,9,10,11,12,13,14,15,16,17,18,19,20,21,22,23,24,25,26,27,28,29,30,31,32,33,34,35,36,37,38,39,40,41,42,43,44,45,46,47,48,49,50,51,52,53,54,55,56,57,58,59,60,61,62,63,64,65,66,67,68,69,70,71,72,73,74,75,76,77,78,79,80,81,82,83,84,85,86,87,88,89,90,91,92,93,94,95,96,97,98,99,100,101,102,103,104,105,106,107,108,109,110,111,112,113,114,115,116,117,118,119,120,121,122],"v":[0.03,0.03,0.04,0.04,0.03,0.03,0.04,0.03,0.04,0.05,0.04,0.03,0.03,0.03,0.03,0.03,0.03,0.03,0.03,0.03,0.04,0.04,0.04,0.03,0.03,0.03,0.03,0.03,0.03,0.03,0.03,0.03,0.03,0.03,0.07,0.03,0.04,0.03,0.03,0.03,0.03,0.03,0.03,0.04,0.03,0.03,0.03,0.03,0.03,0.03,0.03,0.03,0.03,0.03,0.03,0.03,0.03,0.03,0.03,0.03,0.03,0.03,0.03,0.03,0.03,0.03,0.03,0.1,0.03,0.03,0.03,0.03,0.03,0.03,0.03,0.03,0.03,0.03,0.03,0.03,0.03,0.03,0.03,0.03,0.04,0.03,0.03,0.03,0.03,0.03,0.03,0.03,0.03,0.03,0.04,0.03,0.03,0.03,0.07,0.03,0.03,0.03,0.03,0.03,0.03,0.03,0.03,0.03,0.03,0.03,0.03,0.03,0.03,0.03,0.03,0.03,0.03,0.17,0.03,0.03,0.03,0.03,0.05]},
{"h":31,"t":[0,1,2,3,4,5,6,7,8,9,10,11,12,13,14,15,16,17,18,19,20,21,22,23,24,25,26,27,28,29,30,31,32,33,34,35,36,37,38,39,40,41,42,43,44,45,46,47,48,49,50,51,52,53,54,55,56,57,58,59,60,61,62,63,64,65,66,67,68,69,70,71,72,73,74,75,76,77,78,79,80,81,82,83,84,85,86,87,88,89,90,91,92,93,94,95,96,97,98,99,100,101,102,103,104,105,106,107,108,109,110,111,112,113,114,115,116,117,118,119,120,121,122],"v":[0.04,0.04,0.1,0.04,0.04,0.04,0.04,0.04,0.07,0.06,0.06,0.04,0.04,0.04,0.04,0.04,0.05,0.04,0.04,0.04,0.05,0.05,0.04,0.1,0.04,0.04,0.04,0.04,0.04,0.04,0.04,0.04,0.08,0.04,0.05,0.04,0.04,0.04,0.05,0.04,0.04,0.08,0.04,0.04,0.04,0.04,0.04,0.04,0.04,0.04,0.04,0.04,0.04,0.04,0.04,0.04,0.04,0.04,0.04,0.04,0.04,0.04,0.04,0.05,0.05,0.04,0.07,0.17,0.06,0.04,0.04,0.04,0.04,0.04,0.04,0.04,0.04,0.04,0.04,0.04,0.04,0.04,0.04,0.04,0.04,0.04,0.04,0.04,0.04,0.04,0.04,0.04,0.04,0.04,0.04,0.04,0.04,0.04,0.04,0.05,0.04,0.04,0.05,0.05,0.08,0.04,0.1,0.04,0.04,0.04,0.04,0.04,0.04,0.04,0.04,0.04,0.04,0.04,0.04,0.04,0.04,0.04,0.04]}
  ]},
  "transform": [{"flatten": ["t", "v"]}],
  "mark": {"type": "rect"},
  "encoding": {
    "x": {"field": "t", "type": "ordinal", "scale": {"paddingInner": 0, "paddingOuter": 0}, "axis": {"values": [0, 20, 40, 60, 80, 100, 120], "labelAngle": 0, "title": "time (0 = prefill; then each generated token)", "titlePadding": 10}},
    "y": {"field": "h", "type": "ordinal", "scale": {"paddingInner": 0, "paddingOuter": 0}, "axis": {"values": [0, 5, 10, 15, 20, 25, 30], "title": "head", "titlePadding": 14}},
    "color": {
      "field": "v", "type": "quantitative",
      "scale": {"domain": [0, 0.125, 0.25, 0.375, 0.5, 0.625, 0.75, 0.875, 1], "range": ["#f7fbff", "#deebf7", "#c6dbef", "#9ecae1", "#6baed6", "#4292c6", "#2171b5", "#08519c", "#08306b"], "interpolate": "rgb"},
      "legend": {"title": null, "orient": "right", "offset": 385, "direction": "vertical", "gradientLength": 1556, "gradientThickness": 75, "gradientStrokeColor": "black", "gradientStrokeWidth": 1.5, "values": [0, 0.2, 0.4, 0.6, 0.8, 1], "format": ".1f", "labelFontSize": 36, "labelColor": "black", "labelOffset": 14}
    }
  }
}
